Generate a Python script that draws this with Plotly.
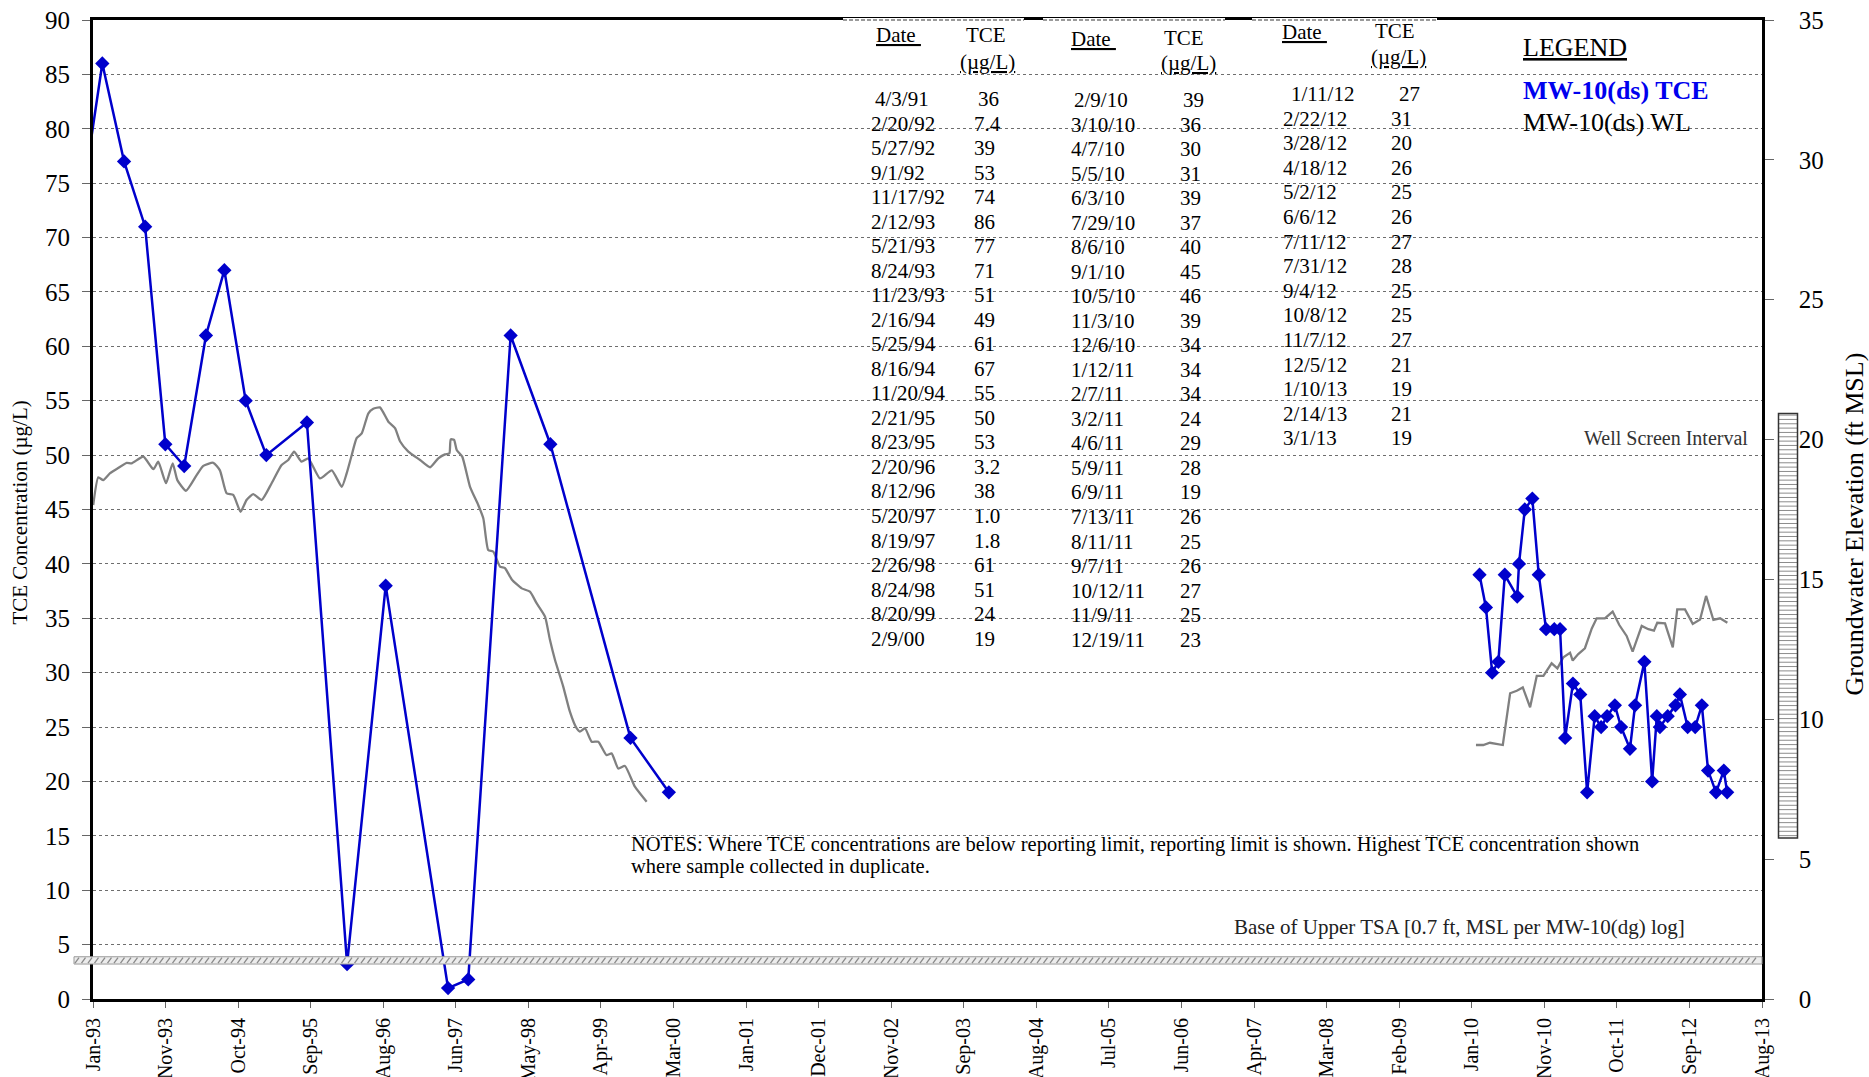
import plotly.graph_objects as go
from datetime import date, timedelta

# ---------------- DATA ----------------
# TCE sampling table (as printed in the chart)
TCE_TABLE_DATES = [
    "4/3/91", "2/20/92", "5/27/92", "9/1/92", "11/17/92", "2/12/93", "5/21/93", "8/24/93",
    "11/23/93", "2/16/94", "5/25/94", "8/16/94", "11/20/94", "2/21/95", "8/23/95", "2/20/96",
    "8/12/96", "5/20/97", "8/19/97", "2/26/98", "8/24/98", "8/20/99", "2/9/00",
    "2/9/10", "3/10/10", "4/7/10", "5/5/10", "6/3/10", "7/29/10", "8/6/10", "9/1/10",
    "10/5/10", "11/3/10", "12/6/10", "1/12/11", "2/7/11", "3/2/11", "4/6/11", "5/9/11",
    "6/9/11", "7/13/11", "8/11/11", "9/7/11", "10/12/11", "11/9/11", "12/19/11",
    "1/11/12", "2/22/12", "3/28/12", "4/18/12", "5/2/12", "6/6/12", "7/11/12", "7/31/12",
    "9/4/12", "10/8/12", "11/7/12", "12/5/12", "1/10/13", "2/14/13", "3/1/13",
]
TCE_TABLE_VALUES = [
    "36", "7.4", "39", "53", "74", "86", "77", "71",
    "51", "49", "61", "67", "55", "50", "53", "3.2",
    "38", "1.0", "1.8", "61", "51", "24", "19",
    "39", "36", "30", "31", "39", "37", "40", "45",
    "46", "39", "34", "34", "34", "24", "29", "28",
    "19", "26", "25", "26", "27", "25", "23",
    "27", "31", "20", "26", "25", "26", "27", "28",
    "25", "25", "27", "21", "19", "21", "19",
]
TABLE_COLUMN_SIZES = [23, 23, 15]

# Groundwater elevation (ft MSL), MW-10(ds)
WL_DATES_EARLY = [
    "1993-01-02", "1993-01-25", "1993-02-16", "1993-03-19", "1993-04-18", "1993-06-02",
    "1993-06-24", "1993-08-16", "1993-09-30", "1993-10-22", "1993-11-26", "1993-12-26",
    "1994-01-16", "1994-02-24", "1994-04-13", "1994-05-13", "1994-06-27", "1994-07-27",
    "1994-08-26", "1994-09-25", "1994-10-28", "1994-11-24", "1994-12-24", "1995-01-31",
    "1995-03-17", "1995-05-01", "1995-05-31", "1995-06-26", "1995-07-30", "1995-08-29",
    "1995-10-21", "1995-12-13", "1996-01-27", "1996-02-18", "1996-03-12", "1996-04-03",
    "1996-04-26", "1996-05-26", "1996-06-17", "1996-07-17", "1996-08-24", "1996-09-23",
    "1996-10-16", "1996-11-22", "1997-01-14", "1997-02-28", "1997-04-06", "1997-05-06",
    "1997-05-26", "1997-06-01", "1997-06-16", "1997-06-28", "1997-07-23", "1997-08-27",
    "1997-10-03", "1997-10-26", "1997-11-17", "1997-12-10", "1998-01-09", "1998-02-01",
    "1998-03-03", "1998-04-17", "1998-05-24", "1998-06-23", "1998-07-31", "1998-08-22",
    "1998-09-14", "1998-10-21", "1998-11-20", "1998-12-20", "1999-01-04", "1999-01-27",
    "1999-02-26", "1999-03-28", "1999-05-04", "1999-05-27", "1999-06-26", "1999-07-26",
    "1999-09-09", "1999-11-01",
]
WL_FT_EARLY = [
    17.66, 18.65, 18.55, 18.80, 18.95, 19.17,
    19.15, 19.39, 18.94, 19.21, 18.44, 19.15,
    18.55, 18.17, 18.73, 19.06, 19.17, 18.90,
    18.08, 18.02, 17.42, 17.84, 18.05, 17.84,
    18.44, 19.09, 19.27, 19.57, 19.21, 19.33,
    18.61, 18.90, 18.31, 18.79, 19.45, 20.05,
    20.22, 20.94, 21.10, 21.15, 20.64, 20.41,
    19.93, 19.57, 19.27, 19.01, 19.33, 19.47,
    19.51, 20.01, 19.99, 19.63, 19.39, 18.31,
    17.66, 17.18, 16.05, 15.99, 15.46, 15.40,
    15.00, 14.68, 14.56, 14.15, 13.67, 12.84,
    12.12, 11.17, 10.27, 9.68, 9.56, 9.68,
    9.20, 9.20, 8.72, 8.78, 8.24, 8.33,
    7.59, 7.05,
]
WL_DATES_LATE = [
    "2010-01-24", "2010-02-26", "2010-03-28", "2010-04-27", "2010-05-25", "2010-06-27",
    "2010-07-27", "2010-08-23", "2010-09-25", "2010-10-25", "2010-11-24", "2010-12-31",
    "2011-01-26", "2011-02-22", "2011-03-24", "2011-04-05", "2011-04-30", "2011-05-30",
    "2011-06-30", "2011-07-22", "2011-08-28", "2011-10-02", "2011-11-01", "2011-12-04",
    "2011-12-31", "2012-02-10", "2012-03-11", "2012-04-05", "2012-04-20", "2012-05-25",
    "2012-06-29", "2012-07-19", "2012-08-23", "2012-09-27", "2012-10-30", "2012-11-26",
    "2012-12-29", "2013-01-28", "2013-03-02",
]
WL_FT_LATE = [
    9.08, 9.08, 9.16, 9.12, 9.08, 10.93,
    11.02, 11.14, 10.43, 11.55, 11.55, 12.00,
    11.82, 12.22, 12.38, 12.10, 12.33, 12.54,
    13.25, 13.61, 13.61, 13.85, 13.37, 12.98,
    12.42, 13.34, 13.22, 13.17, 13.45, 13.43,
    12.57, 13.93, 13.93, 13.41, 13.57, 14.41,
    13.55, 13.61, 13.45,
]

# Reference elevations (ft MSL)
WELL_SCREEN_BOTTOM_FT = 5.76
WELL_SCREEN_TOP_FT = 20.93
BASE_TSA_BAND_FT = (1.25, 1.51)

# Axis
X_AXIS_START = date(1993, 1, 1)
X_TICK_STEP_DAYS = 327
X_TICK_LABELS = [
    "Jan-93", "Nov-93", "Oct-94", "Sep-95", "Aug-96", "Jun-97", "May-98", "Apr-99",
    "Mar-00", "Jan-01", "Dec-01", "Nov-02", "Sep-03", "Aug-04", "Jul-05", "Jun-06",
    "Apr-07", "Mar-08", "Feb-09", "Jan-10", "Nov-10", "Oct-11", "Sep-12", "Aug-13",
]

# ---------------- HELPERS ----------------
W, H = 1869, 1077
ML, MR, MT, MB = 93, 107, 20, 78
PW, PH = W - ML - MR, H - MT - MB
FONT = "Liberation Serif"
BLUE = "#0000CC"


def px(xf):
    return (xf - ML) / PW


def py(yf):
    return (H - MB - yf) / PH


def parse_mdy(s):
    m, d, y = (int(v) for v in s.split("/"))
    y += 1900 if y >= 50 else 2000
    return date(y, m, d)


tce_dates = [parse_mdy(s) for s in TCE_TABLE_DATES]
tce_vals = [float(v) for v in TCE_TABLE_VALUES]

# break the line where there is a long gap in sampling
tx, ty = [], []
for i, (d, v) in enumerate(zip(tce_dates, tce_vals)):
    if i > 0 and (d - tce_dates[i - 1]).days > 1500:
        tx.append(None)
        ty.append(None)
    tx.append(d.isoformat())
    ty.append(v)

tick_vals = [(X_AXIS_START + timedelta(days=X_TICK_STEP_DAYS * k)).isoformat()
             for k in range(len(X_TICK_LABELS))]
x_end = (X_AXIS_START + timedelta(days=X_TICK_STEP_DAYS * (len(X_TICK_LABELS) - 1))).isoformat()

fig = go.Figure()

# Water level (right axis -> base y axis)
fig.add_trace(go.Scatter(x=WL_DATES_EARLY, y=WL_FT_EARLY, yaxis="y", mode="lines",
                         line=dict(color="#808080", width=2.3, shape="spline", smoothing=0.5),
                         showlegend=False, hoverinfo="skip"))
fig.add_trace(go.Scatter(x=WL_DATES_LATE, y=WL_FT_LATE, yaxis="y", mode="lines",
                         line=dict(color="#808080", width=2.3),
                         showlegend=False, hoverinfo="skip"))
# TCE (left axis, overlaid so that it is drawn on top)
fig.add_trace(go.Scatter(x=tx, y=ty, yaxis="y2", mode="lines+markers",
                         line=dict(color=BLUE, width=2.5),
                         marker=dict(symbol="diamond", size=11, color=BLUE, line=dict(width=0)),
                         showlegend=False, connectgaps=False))

tickfont = dict(family=FONT, size=25, color="black")

fig.update_layout(
    width=W, height=H, autosize=False,
    margin=dict(l=ML, r=MR, t=MT, b=MB, autoexpand=False),
    paper_bgcolor="white", plot_bgcolor="white",
    showlegend=False,
    font=dict(family=FONT, color="black"),
    xaxis=dict(type="date", range=[X_AXIS_START.isoformat(), x_end], automargin=False,
               tickmode="array", tickvals=tick_vals, ticktext=X_TICK_LABELS,
               tickangle=-90, ticks="outside", ticklen=6, tickcolor="#666",
               tickfont=dict(family=FONT, size=20, color="black"),
               showline=True, linewidth=3, linecolor="black", mirror=True,
               showgrid=False, zeroline=False, ticklabelstandoff=2),
    yaxis=dict(range=[0, 35], dtick=5, side="right", showgrid=False, zeroline=False,
               automargin=False,
               showline=True, linewidth=2.5, linecolor="black",
               ticks="outside", ticklen=9, tickcolor="#666", tickfont=tickfont,
               ticklabelstandoff=20),
    yaxis2=dict(range=[0, 90], dtick=5, side="left", overlaying="y", automargin=False,
                showgrid=True, gridcolor="#6e6e6e", griddash="dot", gridwidth=1,
                zeroline=False, showline=True, linewidth=3, linecolor="black",
                ticks="outside", ticklen=8, tickcolor="#666", tickfont=tickfont,
                ticklabelstandoff=7),
)

shapes = []
# table boxes overlapping the top border
for a, b in [(843, 1024), (1043, 1225), (1252, 1437)]:
    shapes.append(dict(type="line", xref="paper", yref="paper", x0=px(a), x1=px(b), y0=1, y1=1,
                       line=dict(color="white", width=4), layer="above"))
    shapes.append(dict(type="line", xref="paper", yref="paper", x0=px(a), x1=px(b), y0=1, y1=1,
                       line=dict(color="#9a9a9a", width=2, dash="4px,2px"), layer="above"))

# Base of Upper TSA hatched band
b0, b1 = BASE_TSA_BAND_FT
bx0, bx1 = 74, ML + PW
shapes.append(dict(type="rect", xref="paper", yref="y", x0=px(bx0), x1=px(bx1), y0=b0, y1=b1,
                   fillcolor="#ececec", line=dict(color="#9a9a9a", width=1), layer="above"))
segs = []
xx = bx0 + 1
while xx + 5 < bx1:
    segs.append(f"M{px(xx):.5f},{b0 + 0.03:.3f}L{px(xx + 4):.5f},{b1 - 0.03:.3f}")
    xx += 6.5
shapes.append(dict(type="path", xref="paper", yref="y", path="".join(segs),
                   line=dict(color="#8a8a8a", width=1.3), layer="above"))

# Well screen interval bar
wx0, wx1 = px(1778.5), px(1797.5)
shapes.append(dict(type="rect", xref="paper", yref="y", x0=wx0, x1=wx1,
                   y0=WELL_SCREEN_BOTTOM_FT, y1=WELL_SCREEN_TOP_FT,
                   fillcolor="white", line=dict(width=0), layer="above"))
stripes = []
yy = WELL_SCREEN_BOTTOM_FT + 0.08
while yy < WELL_SCREEN_TOP_FT - 0.05:
    stripes.append(f"M{wx0:.5f},{yy:.3f}L{wx1:.5f},{yy:.3f}")
    yy += 0.155
shapes.append(dict(type="path", xref="paper", yref="y", path="".join(stripes),
                   line=dict(color="#8c8c8c", width=1), layer="above"))
shapes.append(dict(type="rect", xref="paper", yref="y", x0=wx0, x1=wx1,
                   y0=WELL_SCREEN_BOTTOM_FT, y1=WELL_SCREEN_TOP_FT,
                   fillcolor="rgba(0,0,0,0)", line=dict(color="#333", width=1.5), layer="above"))

fig.update_layout(shapes=shapes)

ann = []


def text(x, y, s, size=21, xanchor="left", color="black", yanchor="middle"):
    ann.append(dict(x=px(x), y=py(y), xref="paper", yref="paper", text=s, showarrow=False,
                    xanchor=xanchor, yanchor=yanchor,
                    font=dict(family=FONT, size=size, color=color)))


# data table
col_specs = [
    # date_x, value_x, first_row_y, step, first-row indent
    (869, 972, 99.0, 24.53, 4),
    (1069, 1178, 100.0, 24.53, 3),
    (1281, 1389, 94.0, 24.6, 8),
]
start = 0
for (dx, vx, y0, step, ind), n in zip(col_specs, TABLE_COLUMN_SIZES):
    for i in range(n):
        k = start + i
        extra = ind if i == 0 else 0
        text(dx + extra, y0 + i * step, TCE_TABLE_DATES[k])
        text(vx + extra, y0 + i * step, TCE_TABLE_VALUES[k])
    start += n

hdrs = [(874, 985.7, 987, 34.6, 34.6, 62), (1069, 1183.6, 1188.4, 39.3, 38, 63),
        (1280, 1394.6, 1398.8, 32, 31, 57)]
for dx, tcx, ux, dy, ty_, uy in hdrs:
    text(dx, dy, "<u>Date\u00a0</u>")
    text(tcx, ty_, "TCE", xanchor="center")
    text(ux, uy, "<u>(µg/L)</u>", xanchor="center")

# legend block
text(1521, 47.7, "<u>LEGEND</u>", size=26)
text(1521, 90.6, "<b>MW-10(ds) TCE</b>", size=26, color="#0000EE")
text(1521, 122.8, "MW-10(ds) WL", size=26)

text(1750, 438.4, "Well Screen Interval", size=20, xanchor="right", color="#333")
text(629, 844.5, "NOTES: Where TCE concentrations are below reporting limit, reporting limit is shown. "
                 "Highest TCE concentration shown", size=20.5)
text(629, 866.5, "where sample collected in duplicate.", size=20.5)
text(1687, 927, "Base of Upper TSA [0.7 ft, MSL per MW-10(dg) log]", size=21,
     xanchor="right", color="#222")

# axis titles
ann.append(dict(x=px(20), y=py(512.6), xref="paper", yref="paper", text="TCE Concentration (µg/L)",
                showarrow=False, textangle=-90, xanchor="center", yanchor="middle",
                font=dict(family=FONT, size=21, color="black")))
ann.append(dict(x=px(1853.6), y=py(524), xref="paper", yref="paper",
                text="Groundwater Elevation (ft MSL)",
                showarrow=False, textangle=-90, xanchor="center", yanchor="middle",
                font=dict(family=FONT, size=26, color="black")))

fig.update_layout(annotations=ann)
fig.write_html("out.html", config={"displayModeBar": False},
               post_script="document.body.style.margin='0px';document.body.style.overflow='hidden';")
